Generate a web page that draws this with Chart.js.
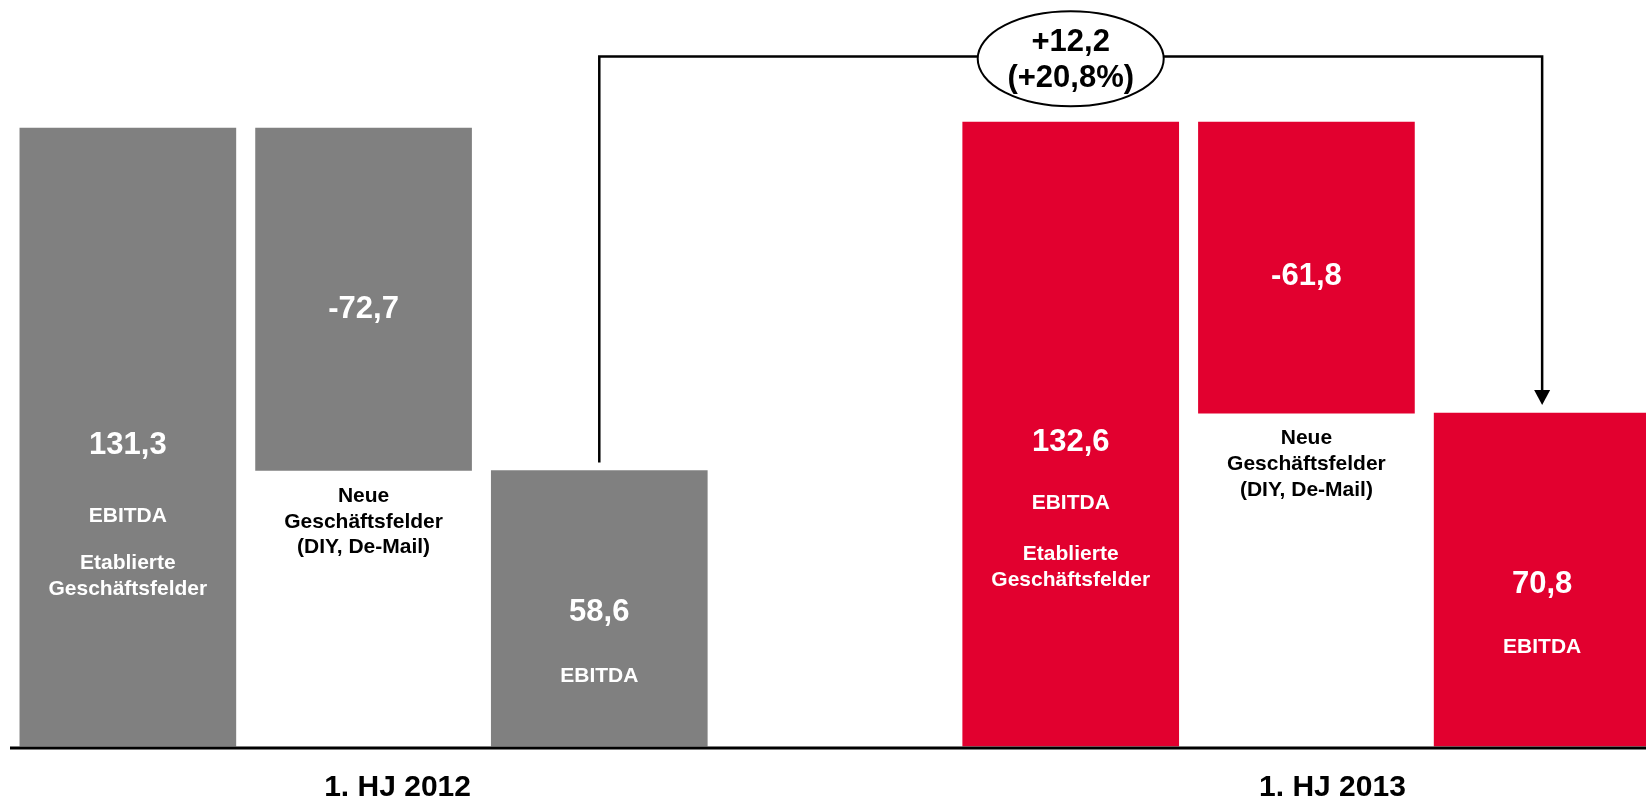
<!DOCTYPE html>
<html>
<head>
<meta charset="utf-8">
<script src="https://cdn.jsdelivr.net/npm/chart.js@4.4.0/dist/chart.umd.min.js"></script>
<style>
    html, body { margin: 0; padding: 0; background: #fff; overflow: hidden; }
    #wrap { position: relative; width: 1670px; height: 801px; }
</style>
</head>
<body>
<div id="wrap"><canvas id="ebitdaChart"></canvas></div>
<script>
// values (Mio. EUR)
const periods = ['1. HJ 2012', '1. HJ 2013'];
const established = [131.3, 132.6];
const newBusiness = [-72.7, -61.8];
const ebitda = [58.6, 70.8];
const deltaText = ['+12,2', '(+20,8%)'];

const slotLabels = ['Etablierte 2012', 'Neue 2012', 'EBITDA 2012', '', 'Etablierte 2013', 'Neue 2013', 'EBITDA 2013'];

const GREY = '#808080';
const RED = '#E2002F';
const FONT = "'Liberation Sans', Arial, sans-serif";

function fmt(v) {
    return (v < 0 ? '-' : '') + Math.abs(v).toFixed(1).replace('.', ',');
}

// waterfall: floating bars built from the three series
const bars = [];
const colors = [];
const valueTexts = [];
periods.forEach((p, i) => {
    const c = i === 0 ? GREY : RED;
    bars.push([0, established[i]]);
    bars.push([established[i] + newBusiness[i], established[i]]);
    bars.push([0, ebitda[i]]);
    colors.push(c, c, c);
    valueTexts.push(fmt(established[i]), fmt(newBusiness[i]), fmt(ebitda[i]));
    if (i === 0) { bars.push(null); colors.push('rgba(0,0,0,0)'); valueTexts.push(''); }
});

// text below the value, offsets from the value label (px)
const innerText = {
    0: [['EBITDA', 71], ['Etablierte', 118], ['Geschäftsfelder', 144]],
    2: [['EBITDA', 64]],
    4: [['EBITDA', 61], ['Etablierte', 112], ['Geschäftsfelder', 138]],
    6: [['EBITDA', 63]]
};
const belowText = ['Neue', 'Geschäftsfelder', '(DIY, De-Mail)'];

const labelPlugin = {
    id: 'labelPlugin',
    afterDatasetsDraw(chart) {
        const ctx = chart.ctx;
        const meta = chart.getDatasetMeta(0);
        const yScale = chart.scales.y;
        const zeroY = yScale.getPixelForValue(0);

        ctx.save();
        // baseline
        ctx.strokeStyle = '#000';
        ctx.lineWidth = 3;
        ctx.beginPath();
        ctx.moveTo(chart.chartArea.left, zeroY + 1.5);
        ctx.lineTo(chart.chartArea.right, zeroY + 1.5);
        ctx.stroke();

        ctx.textAlign = 'center';
        ctx.textBaseline = 'middle';
        meta.data.forEach((bar, i) => {
            if (!bars[i]) return;
            const top = Math.min(bar.y, bar.base);
            const bottom = Math.max(bar.y, bar.base);
            const neg = (i === 1 || i === 5);
            const vy = top + (neg ? 0.53 : 0.513) * (bottom - top);
            ctx.fillStyle = '#fff';
            ctx.font = 'bold 31px ' + FONT;
            ctx.fillText(valueTexts[i], bar.x, vy);
            ctx.font = 'bold 21px ' + FONT;
            (innerText[i] || []).forEach(t => ctx.fillText(t[0], bar.x, vy + t[1]));
            if (neg) {
                ctx.fillStyle = '#000';
                belowText.forEach((t, k) => ctx.fillText(t, bar.x, bottom + 25.5 + k * 25.7));
            }
        });

        // period labels
        ctx.fillStyle = '#000';
        ctx.font = 'bold 30px ' + FONT;
        ctx.fillText(periods[0], meta.data[1].x + 34, 788);
        ctx.fillText(periods[1], meta.data[5].x + 26, 788);

        // connector from EBITDA 2012 to EBITDA 2013
        const a = meta.data[2], b = meta.data[6];
        const lineY = 56.5;
        ctx.strokeStyle = '#000';
        ctx.lineWidth = 2.5;
        ctx.beginPath();
        ctx.moveTo(a.x, a.y - 8);
        ctx.lineTo(a.x, lineY);
        ctx.lineTo(b.x, lineY);
        ctx.lineTo(b.x, b.y - 22);
        ctx.stroke();
        ctx.fillStyle = '#000';
        ctx.beginPath();
        ctx.moveTo(b.x - 8, b.y - 23);
        ctx.lineTo(b.x + 8, b.y - 23);
        ctx.lineTo(b.x, b.y - 8);
        ctx.closePath();
        ctx.fill();

        // delta bubble
        const cx = meta.data[4].x;
        ctx.beginPath();
        ctx.ellipse(cx, 58.8, 93, 47.5, 0, 0, Math.PI * 2);
        ctx.fillStyle = '#fff';
        ctx.fill();
        ctx.lineWidth = 2;
        ctx.stroke();
        ctx.fillStyle = '#000';
        ctx.font = 'bold 31px ' + FONT;
        ctx.fillText(deltaText[0], cx, 42);
        ctx.fillText(deltaText[1], cx, 78);
        ctx.restore();
    }
};

document.addEventListener('DOMContentLoaded', function () {
    const ctx = document.getElementById('ebitdaChart').getContext('2d');
    new Chart(ctx, {
        type: 'bar',
        data: {
            labels: slotLabels,
            datasets: [{
                data: bars,
                backgroundColor: colors,
                borderWidth: 0,
                barThickness: 216,
                grouped: false
            }]
        },
        options: {
            responsive: true,
            maintainAspectRatio: false,
            devicePixelRatio: 1,
            animation: false,
            layout: { padding: { left: 10, right: 10, top: 0, bottom: 54.5 } },
            plugins: {
                legend: { display: false },
                tooltip: { enabled: false }
            },
            scales: {
                x: { display: false },
                y: { display: false, min: 0, max: 158.5 }
            }
        },
        plugins: [labelPlugin]
    });
});
</script>
</body>
</html>
